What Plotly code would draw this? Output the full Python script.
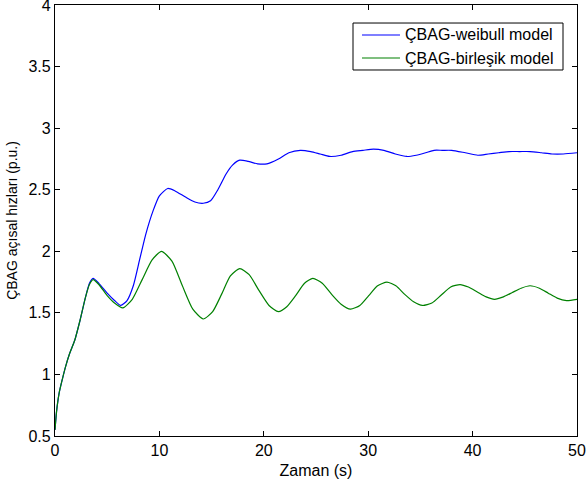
import plotly.graph_objects as go

# Blue series: ÇBAG-weibull model
t_weibull = [0, 0.15, 0.4, 0.7, 1.0, 1.4, 1.9, 2.4, 2.9, 3.3, 3.65, 4.2, 5.0, 5.7, 6.3, 6.9, 7.5,
             8.1, 8.7, 9.4, 10.0, 10.8, 11.5, 12.5, 13.4, 14.2, 14.9, 15.6, 16.4, 17.0, 17.7, 18.5,
             19.4, 20.3, 21.4, 22.4, 23.5, 24.5, 25.4, 26.3, 27.4, 28.5, 29.5, 30.5, 31.5, 32.6,
             33.7, 34.6, 35.5, 36.3, 37.1, 38.0, 39.3, 40.5, 41.5, 42.5, 43.5, 44.5, 45.5, 46.6,
             47.6, 48.7, 50]
y_weibull = [0.55, 0.70, 0.85, 0.96, 1.06, 1.17, 1.28, 1.44, 1.62, 1.74, 1.78, 1.74, 1.66, 1.60,
             1.56, 1.60, 1.72, 1.93, 2.14, 2.33, 2.45, 2.51, 2.49, 2.44, 2.40, 2.39, 2.41, 2.50,
             2.63, 2.70, 2.74, 2.73, 2.71, 2.71, 2.75, 2.80, 2.82, 2.81, 2.79, 2.77, 2.78, 2.81,
             2.82, 2.83, 2.82, 2.79, 2.77, 2.78, 2.80, 2.82, 2.82, 2.82, 2.80, 2.78, 2.79, 2.80,
             2.81, 2.81, 2.81, 2.80, 2.79, 2.79, 2.80]

# Green series: ÇBAG-birleşik model
t_birlesik = [0, 0.15, 0.4, 0.7, 1.0, 1.4, 1.9, 2.4, 2.9, 3.3, 3.65, 4.2, 5.0, 5.7, 6.5, 7.4,
              8.35, 9.3, 10.2, 11.2, 12.2, 13.2, 14.2, 15.1, 15.95, 16.8, 17.7, 18.6, 19.55, 20.5,
              21.4, 22.2, 23.05, 23.9, 24.7, 25.6, 26.5, 27.4, 28.3, 29.2, 30.05, 30.9, 31.8,
              32.65, 33.5, 34.35, 35.2, 36.1, 37.0, 37.9, 38.8, 39.6, 40.45, 41.3, 42.1, 42.95,
              43.8, 44.65, 45.5, 46.4, 47.25, 48.1, 49.0, 50]
y_birlesik = [0.55, 0.70, 0.85, 0.96, 1.06, 1.17, 1.28, 1.44, 1.62, 1.73, 1.77, 1.73, 1.64, 1.58,
              1.54, 1.61, 1.77, 1.93, 2.00, 1.92, 1.72, 1.53, 1.45, 1.51, 1.65, 1.80, 1.86, 1.81,
              1.68, 1.56, 1.51, 1.55, 1.64, 1.74, 1.78, 1.74, 1.65, 1.57, 1.53, 1.56, 1.64, 1.72,
              1.75, 1.72, 1.65, 1.59, 1.56, 1.58, 1.645, 1.71, 1.73, 1.71, 1.67, 1.63, 1.61, 1.63,
              1.665, 1.70, 1.72, 1.70, 1.66, 1.62, 1.60, 1.61]

series_names = ["ÇBAG-weibull model", "ÇBAG-birleşik model"]
series_colors = ["#0000ff", "#008000"]

x_ticks = [0, 10, 20, 30, 40, 50]
y_ticks = [0.5, 1, 1.5, 2, 2.5, 3, 3.5, 4]
y_tick_labels = ["0.5", "1", "1.5", "2", "2.5", "3", "3.5", "4"]

fig = go.Figure()
for t, y, name, color in zip([t_weibull, t_birlesik], [y_weibull, y_birlesik],
                             series_names, series_colors):
    fig.add_trace(go.Scatter(x=t, y=y, mode="lines", name=name, showlegend=False,
                             line=dict(color=color, width=1.2, shape="spline", smoothing=0.6)))

axis_common = dict(showline=True, linecolor="black", linewidth=1.2, mirror="ticks",
                   ticks="inside", ticklen=5, tickcolor="black", showgrid=False, zeroline=False,
                   ticklabeloverflow="allow", automargin=False,
                   tickfont=dict(family="Liberation Sans, Arial", size=16, color="black"))

fig.update_layout(
    width=587, height=485,
    margin=dict(l=55, r=10, t=5, b=49),
    paper_bgcolor="white", plot_bgcolor="white",
    font=dict(family="Liberation Sans, Arial", color="black"),
    xaxis=dict(range=[0, 50], tickvals=x_ticks,
               title=dict(text="Zaman (s)", font=dict(size=16), standoff=6), **axis_common),
    yaxis=dict(range=[0.5, 4], tickvals=y_ticks, ticktext=y_tick_labels,
               title=dict(text="ÇBAG açısal hızları (p.u.)", font=dict(size=14), standoff=7),
               **axis_common),
    showlegend=False,
)

# Legend box (MATLAB-style), drawn in paper coordinates
fig.add_shape(type="rect", xref="paper", yref="paper", x0=0.5709, x1=0.9732, y0=0.8492, y1=0.9582,
              line=dict(color="black", width=1), fillcolor="white", layer="above")
legend_rows_y = [0.9304, 0.8770]
for ly, name, color in zip(legend_rows_y, series_names, series_colors):
    fig.add_shape(type="line", xref="paper", yref="paper", x0=0.5881, x1=0.6609, y0=ly, y1=ly,
                  line=dict(color=color, width=1.2), layer="above")
    fig.add_annotation(xref="paper", yref="paper", x=0.6667, y=ly, text=name, showarrow=False,
                       xanchor="left", yanchor="middle", font=dict(size=16, color="black"))

fig.write_html("out.html")
